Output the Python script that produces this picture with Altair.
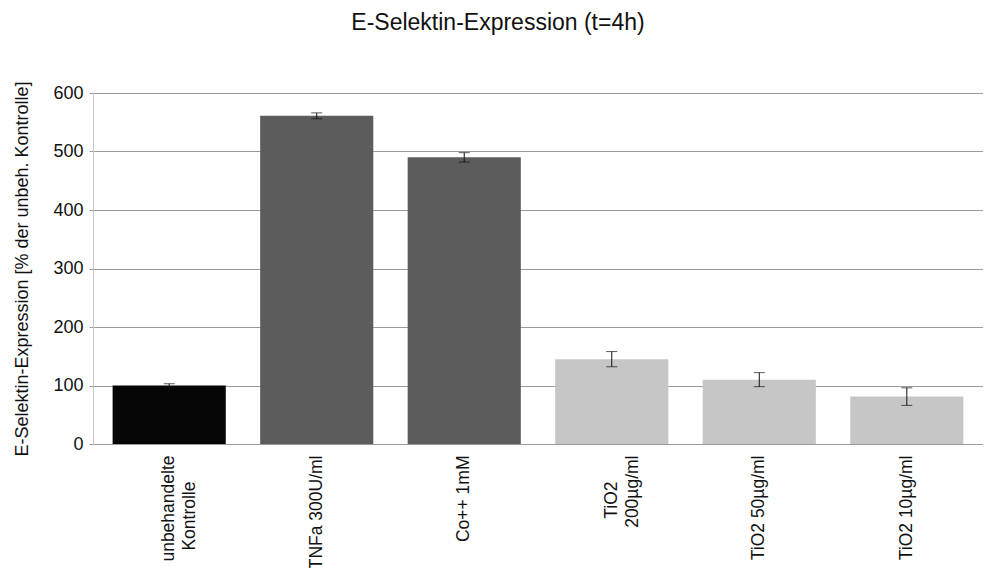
import altair as alt
import pandas as pd

BL = "\u2800"
categories = ["unbehandelte|Kontrolle" + BL * 2, "TNFa 300U/ml", "Co++ 1mM", "TiO2" + BL * 2 + "|200µg/ml", "TiO2 50µg/ml", "TiO2 10µg/ml"]
values = [100, 561, 490, 145, 110, 81]
errors = [3, 5, 8, 13, 12, 15]
groups = ["Kontrolle", "Stimulus", "Stimulus", "TiO2", "TiO2", "TiO2"]

df = pd.DataFrame({
    "cat": categories,
    "val": values,
    "err": errors,
    "grp": groups,
})
df["lo"] = df["val"] - df["err"]
df["hi"] = df["val"] + df["err"]

FONT = "Liberation Sans"

x_enc = alt.X(
    "cat:N",
    sort=categories,
    scale=alt.Scale(paddingInner=0.233, paddingOuter=0.133),
    axis=alt.Axis(
        title=None,
        labelAngle=-90,
        labelAlign="right",
        labelBaseline="middle",
        labelExpr="split(datum.label, '|')",
        labelFont=FONT,
        labelFontSize=17.5,
        labelLineHeight=21,
        labelColor="#111111",
        labelPadding=11,
        ticks=False,
        domainColor="#9a9a9a",
        grid=False,
    ),
)

bars = alt.Chart(df).mark_bar().encode(
    x=x_enc,
    y=alt.Y(
        "val:Q",
        scale=alt.Scale(domain=[0, 600]),
        axis=alt.Axis(
            values=[0, 100, 200, 300, 400, 500, 600],
            title="E-Selektin-Expression [% der unbeh. Kontrolle]",
            titleFont=FONT,
            titleFontSize=18,
            titleFontWeight="normal",
            titleColor="#111111",
            titlePadding=21,
            labelFont=FONT,
            labelFontSize=18,
            labelColor="#111111",
            labelPadding=6,
            tickSize=4,
            tickColor="#9a9a9a",
            domainColor="#c8c8c8",
            gridColor="#9a9a9a",
            gridWidth=1,
        ),
    ),
    color=alt.Color(
        "grp:N",
        scale=alt.Scale(domain=["Kontrolle", "Stimulus", "TiO2"], range=["#050505", "#5c5c5c", "#c6c6c6"]),
        legend=None,
    ),
)

err_rule = alt.Chart(df).mark_rule(color="#111111", strokeWidth=1).encode(
    x=alt.X("cat:N", sort=categories),
    y="lo:Q",
    y2="hi:Q",
)
cap_hi = alt.Chart(df).mark_tick(color="#111111", thickness=1, size=11).encode(
    x=alt.X("cat:N", sort=categories),
    y="hi:Q",
)
cap_lo = alt.Chart(df).mark_tick(color="#111111", thickness=1, size=11).encode(
    x=alt.X("cat:N", sort=categories),
    y="lo:Q",
)

chart = alt.layer(bars, err_rule, cap_hi, cap_lo).properties(
    width=890,
    height=351,
    autosize="none",
    padding={"left": 85, "top": 85, "right": 0, "bottom": 124},
    title=alt.TitleParams(
        "E-Selektin-Expression (t=4h)",
        font=FONT,
        fontSize=23,
        fontWeight="normal",
        color="#111111",
        baseline="alphabetic",
        offset=28,
        dx=-40,
        anchor="middle",
    ),
).configure_view(stroke=None)

chart.save("out.html", embed_options={"renderer": "svg", "actions": False})
